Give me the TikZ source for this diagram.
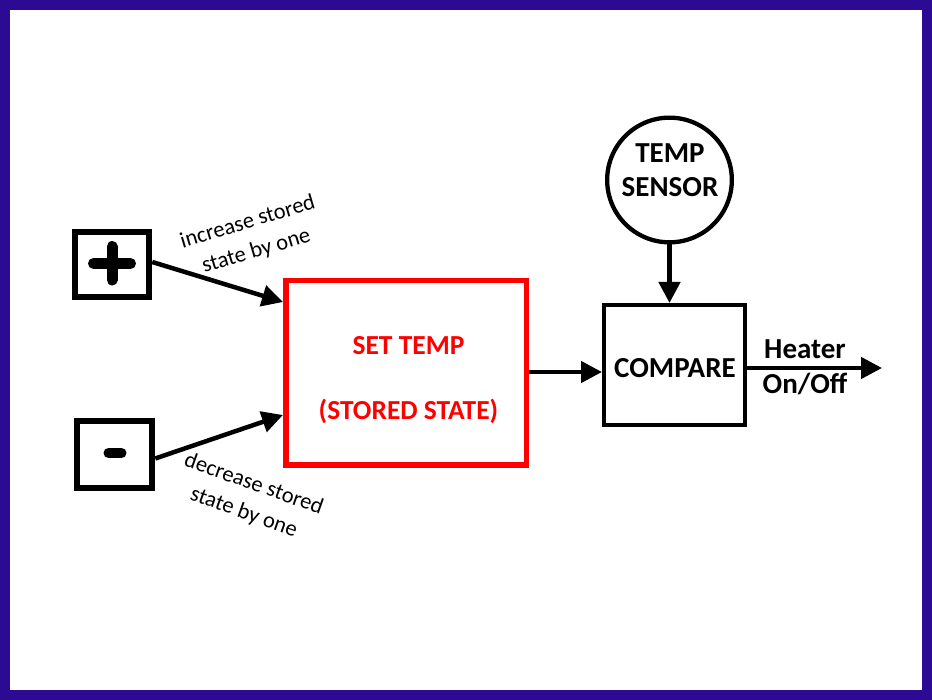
\documentclass[tikz,border=0pt]{standalone}
\usepackage{fontspec}
\setmainfont{Carlito}
\usetikzlibrary{arrows.meta}
\definecolor{framecol}{RGB}{44,10,148}
\definecolor{setred}{RGB}{255,0,0}
\begin{document}
\begin{tikzpicture}[x=1pt,y=-1pt,
  keybox/.style={draw=black, line width=6.5pt, inner sep=0pt},
  setbox/.style={draw=setred, line width=5.5pt, inner sep=0pt, minimum width=240.5pt, minimum height=184.5pt},
  cmpbox/.style={draw=black, line width=4.3pt, inner sep=0pt, minimum width=140.7pt, minimum height=119.7pt},
  sensorcirc/.style={draw=black, line width=4.3pt, circle, inner sep=0pt, minimum size=124.7pt},
  boldtxt/.style={inner sep=0pt, anchor=base, font=\fontsize{29}{34}\selectfont\bfseries},
  redtxt/.style={inner sep=0pt, anchor=base, text=setred, font=\fontsize{27.5}{33}\selectfont\bfseries},
  smalltxt/.style={inner sep=0pt, anchor=base, align=center, font=\fontsize{22.5}{30}\selectfont},
  flow/.style={draw=black, line width=4.5pt, -{Triangle[length=21pt,width=21pt]}},
  signline/.style={line cap=round, black}
]
\useasboundingbox (0,0) rectangle (932,700);
\fill[white] (0,0) rectangle (932,700);
\draw[framecol, line width=10pt] (5,5) rectangle (927,695);

% key boxes
\node[keybox, minimum width=74pt, minimum height=65pt] (plus) at (112,264.5) {};
\node[keybox, minimum width=75pt, minimum height=67pt] (minus) at (114.5,454.5) {};
\draw[signline, line width=11pt] (93.5,263.5) -- (130.5,263.5);
\draw[signline, line width=11pt] (112,246.5) -- (112,280);
\draw[signline, line width=10pt] (108.5,453) -- (121.5,453);

% main boxes
\node[setbox] (set) at (406,373) {};
\node[redtxt] (settxt1) at (408.5,355) {SET TEMP};
\node[redtxt] (settxt2) at (408.5,420) {(STORED STATE)};

\node[cmpbox] (cmp) at (674.5,365) {};
\node[boldtxt] (cmptxt) at (675,378) {COMPARE};

\node[sensorcirc] (sensor) at (669.5,180) {};
\node[boldtxt] (sensortxt1) at (670,163) {TEMP};
\node[boldtxt] (sensortxt2) at (670,197) {SENSOR};

\node[boldtxt] (heat1) at (805,359) {Heater};
\node[boldtxt] (heat2) at (805,394) {On/Off};

% labels
\node[smalltxt, rotate=16.5] (inc) at (258,257) {increase stored\\state by one};
\node[smalltxt, rotate=-19.5] (dec) at (241.7,518.3) {decrease stored\\state by one};

% connectors
\coordinate (tipA) at (set.west |- 0,302);
\coordinate (tipB) at (set.west |- 0,415);
\coordinate (outend) at (882,368);
\draw[flow] ([yshift=2.5pt]plus.east) -- (tipA);
\draw[flow] ([yshift=-4pt]minus.east) -- (tipB);
\draw[flow] (set.east |- 0,372) -- (cmp.west |- 0,372);
\draw[flow] (sensor.south) -- (sensor.south |- cmp.north);
\draw[flow] (cmp.east |- outend) -- (outend);
\end{tikzpicture}
\end{document}
